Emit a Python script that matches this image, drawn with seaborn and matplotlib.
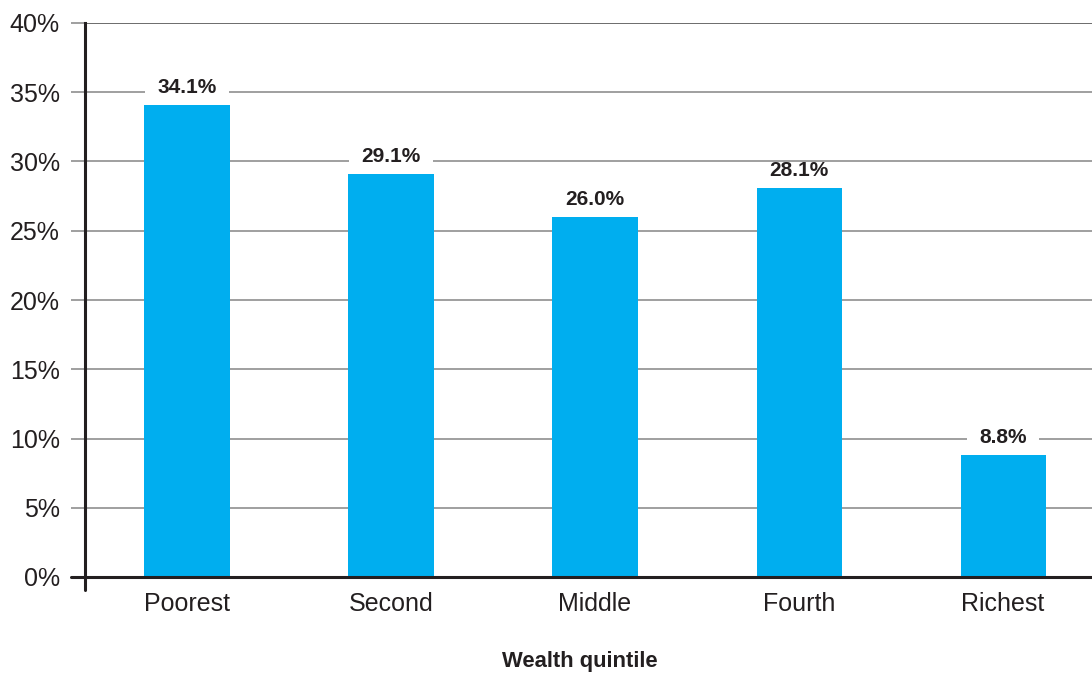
import matplotlib
matplotlib.use("Agg")
import matplotlib.pyplot as plt
from matplotlib.path import Path
from matplotlib.lines import Line2D
import seaborn as sns
import pandas as pd

categories = ["Poorest", "Second", "Middle", "Fourth", "Richest"]
values = [34.1, 29.1, 26.0, 28.1, 8.8]
y_ticks = [0, 5, 10, 15, 20, 25, 30, 35, 40]
y_tick_labels = [f"{t}%" for t in y_ticks]
x_label = "Wealth quintile"

BAR = "#00AEEF"
DARK = "#231f20"
GRID = "#858585"

sns.set_theme(style="white")
plt.rcParams["font.family"] = ["Liberation Sans", "DejaVu Sans"]

df = pd.DataFrame({"quintile": categories, "share": values})

fig = plt.figure(figsize=(10.92, 6.73), dpi=100)
ax = fig.add_axes([85 / 1092, 1 - 577 / 673, 1 - 85 / 1092, (577 - 23) / 673])

sns.barplot(data=df, x="quintile", y="share", color=BAR, saturation=1,
            width=0.417, ax=ax, zorder=3, edgecolor="none")

ax.set_xlim(-0.5, 4.436)
ax.set_ylim(0, 40)
ax.set_yticks(y_ticks)
ax.set_yticklabels(y_tick_labels)

ax.set_axisbelow(True)
ax.yaxis.grid(True, color=GRID, linewidth=1.1)
ax.xaxis.grid(False)
gl = ax.get_ygridlines()
gl[-1].set_color("#444444")

for s in ["top", "right"]:
    ax.spines[s].set_visible(False)
for s in ["left", "bottom"]:
    ax.spines[s].set_color(DARK)
    ax.spines[s].set_linewidth(2.2)
    ax.spines[s].set_zorder(5)

ax.tick_params(axis="y", which="both", left=True, length=10, width=1.1,
               color=GRID, pad=8, labelsize=18, labelcolor=DARK)
ax.tick_params(axis="x", length=0, pad=11, labelsize=18, labelcolor=DARK)

ax.set_xlabel(x_label, fontsize=15.8, fontweight="bold", color=DARK)
ax.xaxis.set_label_coords(0.4916, -0.133)
ax.set_ylabel("")

# extensions of spines beyond the origin (cross at origin)
tick_frac_x = 14 / (1092 - 85)
tick_frac_y = 13 / (577 - 23)
ax.add_line(Line2D([-tick_frac_x, 0], [0, 0], transform=ax.transAxes,
                   color=DARK, lw=2.2, clip_on=False, zorder=5))
ax.add_line(Line2D([0, 0], [-tick_frac_y, 0], transform=ax.transAxes,
                   color=DARK, lw=2.2, clip_on=False, zorder=5))


def wide_box(x0, y0, width, height, mutation_size):
    hp = 0.6 * mutation_size
    vp = -0.05 * mutation_size
    x0, y0 = x0 - hp, y0 - vp
    x1, y1 = x0 + width + 2 * hp, y0 + height + 2 * vp
    return Path([(x0, y0), (x1, y0), (x1, y1), (x0, y1), (x0, y0)],
                closed=True)


for i, v in enumerate(values):
    ax.annotate(f"{v:.1f}%", xy=(i, v), xytext=(0, 8.5), textcoords="offset points",
                ha="center", va="baseline", fontsize=15, fontweight="bold",
                color=DARK, zorder=2.5,
                bbox=dict(boxstyle=wide_box, facecolor="white", edgecolor="none"))

fig.savefig("out.png", dpi=100, facecolor="white")
